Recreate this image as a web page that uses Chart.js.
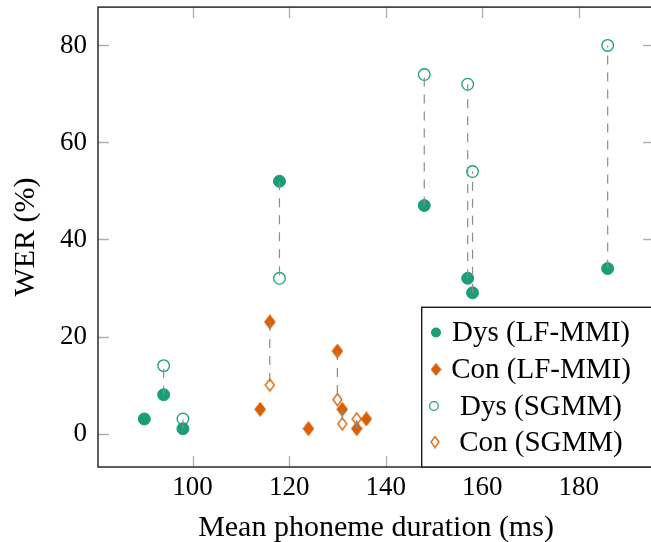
<!doctype html>
<html>
<head>
    <title>WER vs phoneme duration</title>
    <script src="https://cdn.jsdelivr.net/npm/chart.js"></script>
    <style>
        html, body { margin: 0; padding: 0; background: #fff; overflow: hidden; }
        #wrap { width: 662px; height: 542px; }
    </style>
</head>
<body>
<div id="wrap"><canvas id="grafico"></canvas></div>
<script>
    // Dysarthric speakers
    var dysX = [90, 94, 98, 118, 148, 157, 158, 186];
    var dysLF = [3, 8, 1, 52, 47, 32, 29, 34];
    var dysSgmmX = [94, 98, 118, 148, 157, 158, 186];
    var dysSgmm = [14, 3, 32, 74, 72, 54, 80];
    // Control speakers
    var conX = [114, 116, 124, 130, 131, 134, 136];
    var conLF = [5, 23, 1, 17, 5, 1, 3];
    var conSgmmX = [116, 130, 131, 134];
    var conSgmm = [10, 7, 2, 3];

    var xTicks = [100, 120, 140, 160, 180];
    var yTicks = [0, 20, 40, 60, 80];
    var labels = ['Dys (LF-MMI)', 'Con (LF-MMI)', 'Dys (SGMM)', 'Con (SGMM)'];

    var verde = '#1b9e77';
    var laranja = '#d95f02';
    var serif = '"Liberation Serif", serif';

    function pts(xs, ys) {
        return xs.map(function (x, i) { return { x: x, y: ys[i] }; });
    }

    // dashed links between the two systems for the same speaker
    function links(xa, ya, xb, yb) {
        var out = [];
        xa.forEach(function (x, i) {
            var j = xb.indexOf(x);
            if (j >= 0) {
                out.push({ x: x, y: ya[i] }, { x: x, y: yb[j] }, { x: x, y: null });
            }
        });
        return out;
    }

    function diamond(w, h, filled) {
        var c = document.createElement('canvas');
        c.width = w + 2; c.height = h + 2;
        var g = c.getContext('2d');
        g.beginPath();
        g.moveTo(c.width / 2, 1);
        g.lineTo(c.width - 1, c.height / 2);
        g.lineTo(c.width / 2, c.height - 1);
        g.lineTo(1, c.height / 2);
        g.closePath();
        if (filled) { g.fillStyle = laranja; g.fill(); }
        g.strokeStyle = laranja; g.lineWidth = 1.3; g.stroke();
        return c;
    }

    var diamanteCheio = diamond(10, 13, true);
    var diamanteVazio = diamond(9, 12, false);

    var linkData = links(dysX, dysLF, dysSgmmX, dysSgmm).concat(links(conX, conLF, conSgmmX, conSgmm));

    // frame + inward ticks on all four sides
    var moldura = {
        id: 'moldura',
        afterDatasetsDraw: function (chart) {
            var ctx = chart.ctx, a = chart.chartArea;
            var sx = chart.scales.x, sy = chart.scales.y;
            ctx.save();
            ctx.strokeStyle = '#b0b0b0';
            ctx.lineWidth = 1.3;
            ctx.beginPath();
            xTicks.forEach(function (v) {
                var p = Math.round(sx.getPixelForValue(v)) + 0.5;
                ctx.moveTo(p, a.bottom); ctx.lineTo(p, a.bottom - 11);
                ctx.moveTo(p, a.top); ctx.lineTo(p, a.top + 11);
            });
            yTicks.forEach(function (v) {
                var p = Math.round(sy.getPixelForValue(v)) + 0.5;
                ctx.moveTo(a.left, p); ctx.lineTo(a.left + 11, p);
                ctx.moveTo(a.right, p); ctx.lineTo(a.right - 11, p);
            });
            ctx.stroke();
            ctx.strokeStyle = '#1a1a1a';
            ctx.lineWidth = 1.4;
            ctx.strokeRect(a.left, a.top, a.right - a.left, a.bottom - a.top);
            ctx.restore();
        }
    };

    // legend box in the lower right corner of the plot area
    var legenda = {
        id: 'legenda',
        afterDraw: function (chart) {
            var ctx = chart.ctx, a = chart.chartArea;
            var left = 421.7, top = 307.3;
            ctx.save();
            ctx.fillStyle = '#fff';
            ctx.fillRect(left, top, a.right - left, a.bottom - top);
            ctx.strokeStyle = '#1a1a1a';
            ctx.lineWidth = 1.4;
            ctx.strokeRect(left, top, a.right - left, a.bottom - top);

            var baselines = [341, 378, 414.5, 450.5];
            var mx = [436, 436, 434, 435];
            ctx.font = '29px ' + serif;
            ctx.fillStyle = '#000';
            ctx.textAlign = 'center';
            ctx.textBaseline = 'alphabetic';
            labels.forEach(function (t, i) {
                ctx.fillText(t, 541, baselines[i]);
            });

            var my = baselines.map(function (b) { return b - 8.5; });
            ctx.lineWidth = 1.2;
            ctx.beginPath(); ctx.arc(mx[0], my[0], 5, 0, Math.PI * 2);
            ctx.fillStyle = verde; ctx.fill();
            ctx.drawImage(diamond(9, 11, true), mx[1] - 5.5, my[1] - 6.5);
            ctx.beginPath(); ctx.arc(mx[2], my[2], 4.3, 0, Math.PI * 2);
            ctx.strokeStyle = verde; ctx.stroke();
            ctx.drawImage(diamond(8, 11, false), mx[3] - 5, my[3] - 6.5);
            ctx.restore();
        }
    };

    var fonteTicks = { family: serif, size: 27 };
    var fonteTitulo = { family: serif, size: 30 };

    new Chart(document.getElementById('grafico').getContext('2d'), {
        type: 'scatter',
        data: {
            datasets: [
                {
                    type: 'line',
                    label: 'links',
                    data: linkData,
                    borderColor: '#8c8c8c',
                    borderWidth: 1.2,
                    borderDash: [9, 8],
                    pointRadius: 0,
                    spanGaps: false,
                    fill: false,
                    order: -1
                },
                {
                    label: labels[0],
                    data: pts(dysX, dysLF),
                    pointStyle: 'circle',
                    pointRadius: 6,
                    backgroundColor: verde,
                    borderColor: verde,
                    borderWidth: 1
                },
                {
                    label: labels[1],
                    data: pts(conX, conLF),
                    pointStyle: diamanteCheio,
                    pointRadius: 6
                },
                {
                    label: labels[2],
                    data: pts(dysSgmmX, dysSgmm),
                    pointStyle: 'circle',
                    pointRadius: 5.8,
                    backgroundColor: 'rgba(255,255,255,0)',
                    borderColor: verde,
                    borderWidth: 1.3
                },
                {
                    label: labels[3],
                    data: pts(conSgmmX, conSgmm),
                    pointStyle: diamanteVazio,
                    pointRadius: 6
                }
            ]
        },
        options: {
            responsive: true,
            maintainAspectRatio: false,
            animation: false,
            layout: { padding: { left: 0, right: 8, top: 7, bottom: 0 } },
            plugins: {
                legend: { display: false },
                tooltip: { enabled: false }
            },
            scales: {
                x: {
                    type: 'linear',
                    min: 80.4,
                    max: 195.6,
                    afterBuildTicks: function (s) { s.ticks = xTicks.map(function (v) { return { value: v }; }); },
                    afterFit: function (s) { s.height = 75; s.paddingLeft = 0; s.paddingRight = 0; },
                    grid: { display: false },
                    border: { display: false },
                    ticks: { font: fonteTicks, color: '#000', padding: -3 },
                    title: {
                        display: true,
                        text: 'Mean phoneme duration (ms)',
                        font: fonteTitulo,
                        color: '#000',
                        padding: { top: 0, bottom: -4 }
                    }
                },
                y: {
                    min: -6.9,
                    max: 87.9,
                    afterBuildTicks: function (s) { s.ticks = yTicks.map(function (v) { return { value: v }; }); },
                    afterFit: function (s) { s.width = 98; s.paddingTop = 0; s.paddingBottom = 0; },
                    grid: { display: false },
                    border: { display: false },
                    ticks: { font: fonteTicks, color: '#000', padding: 3 },
                    title: {
                        display: true,
                        text: 'WER (%)',
                        font: fonteTitulo,
                        color: '#000',
                        padding: { top: 8, bottom: 0 }
                    }
                }
            }
        },
        plugins: [moldura, legenda]
    });
</script>
</body>
</html>
